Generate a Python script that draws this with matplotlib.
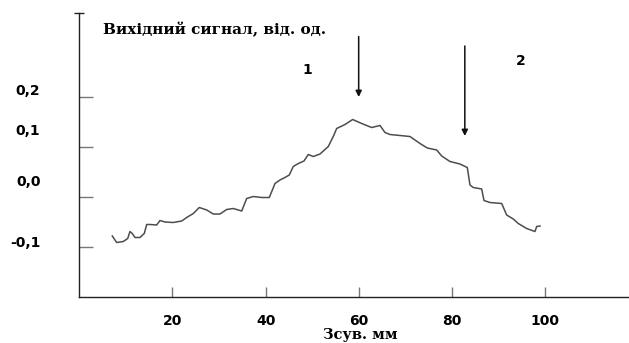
import matplotlib
matplotlib.use("Agg")
import matplotlib.pyplot as plt
import matplotlib.transforms as mtransforms

# ---- data ----
x_mm = [7.07, 8.01, 9.43, 10.38, 10.87, 11.36, 11.94, 13.02, 13.94, 14.46, 15.17,
        16.61, 17.31, 18.39, 20.17, 21.98, 23.05, 24.47, 25.76, 27.35, 28.76, 30.20,
        31.64, 33.06, 34.87, 35.94, 37.36, 39.16, 40.80, 42.02, 43.09, 44.17, 45.09,
        45.95, 47.02, 48.25, 49.17, 50.25, 51.69, 53.47, 54.54, 55.27, 57.06, 58.71,
        60.64, 62.79, 64.58, 65.65, 66.72, 71.02, 73.17, 74.74, 76.76, 77.83, 79.61,
        81.76, 83.33, 83.91, 84.62, 86.42, 86.92, 88.20, 90.72, 91.79, 93.21, 94.29,
        96.09, 97.87, 98.24, 98.95]
signal = [-0.078, -0.091, -0.089, -0.083, -0.069, -0.073, -0.081, -0.081, -0.073, -0.055, -0.055,
          -0.056, -0.047, -0.050, -0.051, -0.048, -0.041, -0.033, -0.021, -0.026, -0.034, -0.034,
          -0.025, -0.023, -0.028, -0.003, 0.001, -0.001, -0.001, 0.027, 0.034, 0.039, 0.044,
          0.061, 0.067, 0.072, 0.085, 0.081, 0.086, 0.101, 0.121, 0.137, 0.145, 0.155,
          0.147, 0.139, 0.143, 0.129, 0.125, 0.121, 0.107, 0.098, 0.094, 0.082, 0.071,
          0.066, 0.059, 0.024, 0.019, 0.016, -0.007, -0.011, -0.013, -0.036, -0.044, -0.053,
          -0.063, -0.069, -0.059, -0.058]

x_ticks = [20, 40, 60, 80, 100]
x_tick_labels = ["20", "40", "60", "80", "100"]
y_ticks = [-0.1, 0.0, 0.1, 0.2]
y_tick_labels = ["-0,1", "0,0", "0,1", "0,2"]

title_text = "Вихідний сигнал, від. од."
x_label = "Зсув. мм"
marker_labels = ["1", "2"]
marker_x = [60.0, 82.8]
marker_tip = [0.200, 0.122]
marker_top = [0.321, 0.302]

# ---- figure ----
fig = plt.figure(figsize=(6.29, 3.43), dpi=100)
ax = fig.add_axes([0.1262, 0.1341, 0.8738, 0.828])
ax.set_xlim(0, 118.07)
ax.set_ylim(-0.2, 0.368)

ax.plot(x_mm, signal, color="#4d4d4d", lw=1.1)

for s in ["top", "right"]:
    ax.spines[s].set_visible(False)
for s in ["left", "bottom"]:
    ax.spines[s].set_color("#222222")
    ax.spines[s].set_linewidth(1.0)

# cap on top of y axis
ax.plot([0], [1], marker="_", markersize=7, color="#222222", mew=1.0,
        transform=ax.transAxes, clip_on=False)

ax.set_xticks(x_ticks)
ax.set_xticklabels(x_tick_labels, fontsize=10, fontweight="bold", family="DejaVu Sans")
ax.set_yticks(y_ticks)
ax.set_yticklabels(y_tick_labels, fontsize=10, fontweight="bold", family="DejaVu Sans")
ax.tick_params(axis="x", direction="in", length=7.5, width=1.0, color="#777777", pad=12)
ax.tick_params(axis="y", direction="in", length=10, width=1.0, color="#777777", pad=28)

# the y labels in the reference sit a little above their ticks
y_offsets_pt = [3.8, 11.7, 12.5, 5.2]
for lab, off in zip(ax.get_yticklabels(), y_offsets_pt):
    lab.set_transform(lab.get_transform() +
                      mtransforms.ScaledTranslation(0, off / 72.0, fig.dpi_scale_trans))

ax.set_xlabel(x_label, fontsize=10.5, fontweight="bold", family="DejaVu Serif",
              va="baseline")
ax.xaxis.set_label_coords(0.512, -0.147)

ax.text(5.1, 0.334, title_text, fontsize=11, fontweight="bold",
        family="DejaVu Serif", ha="left", va="center")

label_pos_x = [48.95, 94.9]
label_pos_y = [0.254, 0.272]
for lab, lx, ly in zip(marker_labels, label_pos_x, label_pos_y):
    ax.text(lx, ly, lab, fontsize=10, fontweight="bold", family="DejaVu Sans",
            ha="center", va="center")

for mx, tip, top in zip(marker_x, marker_tip, marker_top):
    ax.annotate("", xy=(mx, tip), xytext=(mx, top),
                arrowprops=dict(arrowstyle="-|>", color="#111111", lw=1.1,
                                mutation_scale=9, shrinkA=0, shrinkB=0))

fig.savefig("out.png", dpi=100)
